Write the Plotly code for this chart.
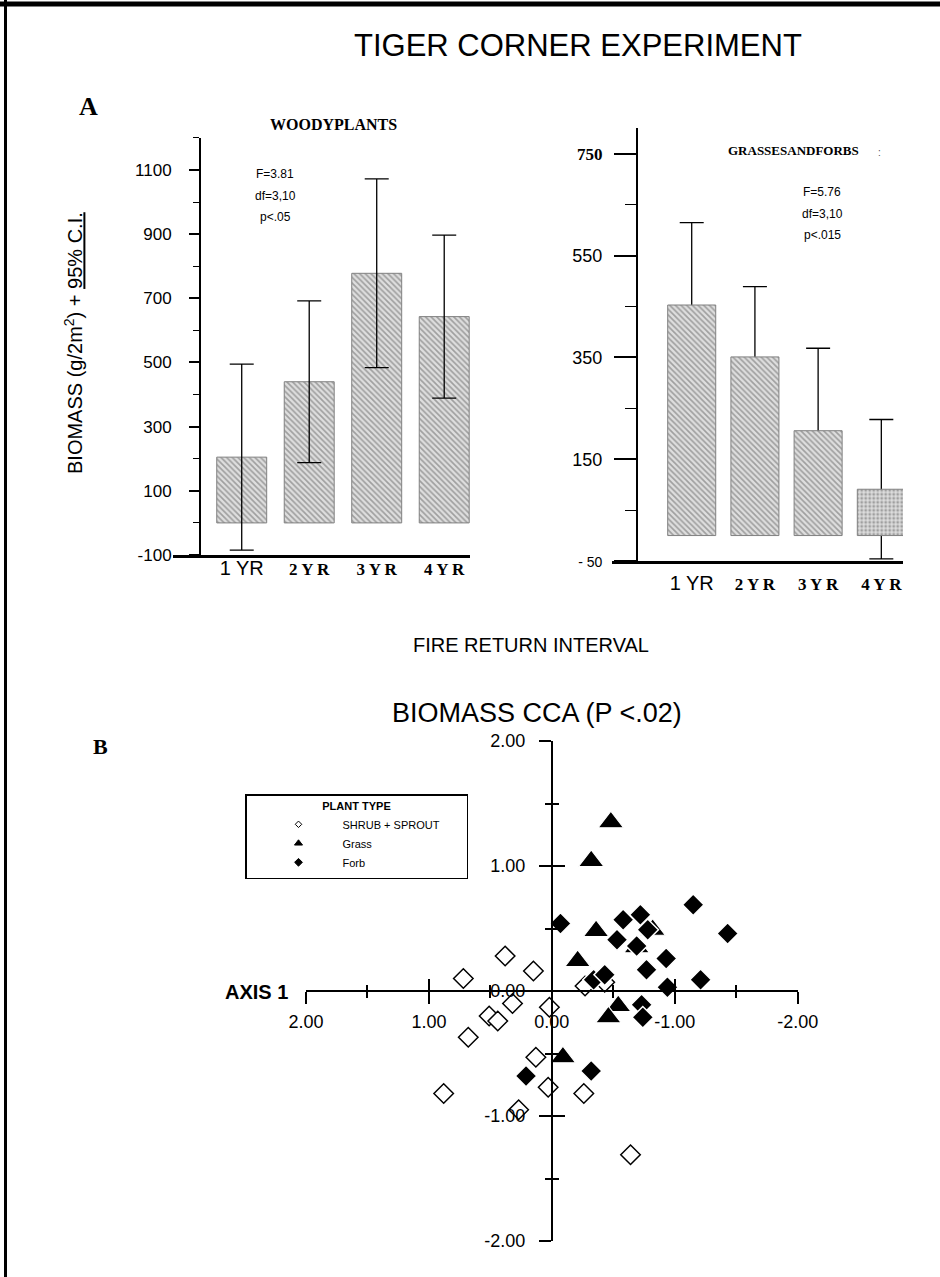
import plotly.graph_objects as go

# ---------------- data ----------------
intervals = ["1 YR", "2 YR", "3 YR", "4 YR"]

woody_mean = [205, 440, 778, 643]
woody_ci = [290, 252, 294, 254]
woody_stats = ["F=3.81", "df=3,10", "p<.05"]

grass_mean = [453, 351, 206, 91]
grass_ci = [162, 138, 162, 137]
grass_stats = ["F=5.76", "df=3,10", "p<.015"]

woody_major = [-100, 100, 300, 500, 700, 900, 1100]
woody_minor = [0, 200, 400, 600, 800, 1000, 1200]
grass_major = [-50, 150, 350, 550, 750]
grass_minor = [50, 250, 450, 650]

cca_major = [2, 1, 0, -1, -2]
cca_major_text = ["2.00", "1.00", "0.00", "-1.00", "-2.00"]
cca_minor = [1.5, 0.5, -0.5, -1.5]

shrub_x = [0.38, 0.15, 0.72, 0.32, 0.02, 0.51, 0.44, 0.68, 0.13, 0.03, 0.88, -0.26, 0.27, -0.64, -0.27, -0.43]
shrub_y = [0.28, 0.16, 0.10, -0.10, -0.13, -0.20, -0.24, -0.37, -0.53, -0.77, -0.82, -0.82, -0.95, -1.31, 0.04, 0.07]

grass_x = [-0.48, -0.32, -0.36, -0.21, -0.82, -0.69, -0.54, -0.46, -0.09]
grass_y = [1.35, 1.04, 0.48, 0.24, 0.49, 0.35, -0.12, -0.21, -0.53]

forb_x = [-0.07, -0.58, -0.72, -0.78, -0.53, -0.69, -0.93, -0.77, -1.15, -1.43,
          -1.21, -0.94, -0.34, -0.43, -0.32, 0.21, -0.73, -0.74]
forb_y = [0.54, 0.57, 0.61, 0.49, 0.41, 0.36, 0.26, 0.17, 0.69, 0.46,
          0.09, 0.03, 0.09, 0.13, -0.64, -0.68, -0.11, -0.21]

plant_types = ["SHRUB + SPROUT", "Grass", "Forb"]

# ---------------- page geometry helpers ----------------
W, H = 940, 1277
SANS = "Liberation Sans, Arial, sans-serif"
NARROW = "Liberation Sans Narrow, Arial Narrow, Liberation Sans, sans-serif"
SERIF = "Liberation Serif, Times New Roman, serif"


def px(x):
    return x / W


def py(y):
    return 1 - y / H


def year_label(label, first):
    if first:
        return f"<span style='font-family:{SANS};font-size:20px'>{label}</span>"
    spaced = " ".join(label.replace(" ", ""))
    return f"<span style='font-family:{SERIF};font-size:17px'><b>{spaced}</b></span>"


year_ticks = [year_label(t, i == 0) for i, t in enumerate(intervals)]
pos = list(range(len(intervals)))

bar_pattern = dict(shape="\\", fgcolor="#606060", bgcolor="#dedede", size=4, solidity=0.42)
bar_line = dict(color="#808080", width=1)

fig = go.Figure()

# woody plants: error bars drawn over the bars
fig.add_trace(go.Bar(
    x=pos, y=woody_mean, width=0.74, xaxis="x", yaxis="y",
    marker=dict(pattern=bar_pattern, line=bar_line),
    error_y=dict(type="data", array=woody_ci, visible=True, color="black", thickness=1.3, width=12),
    showlegend=False, hoverinfo="skip",
))

# grasses and forbs: error bars sit behind the bars
fig.add_trace(go.Bar(
    x=pos, y=grass_mean, width=0.76, xaxis="x2", yaxis="y2",
    marker=dict(color="rgba(0,0,0,0)", line=dict(width=0)),
    error_y=dict(type="data", array=grass_ci, visible=True, color="black", thickness=1.3, width=12),
    showlegend=False, hoverinfo="skip",
))
fig.add_trace(go.Bar(
    x=pos, y=grass_mean, width=0.76, xaxis="x2", yaxis="y2",
    marker=dict(pattern=dict(bar_pattern, shape=["\\", "\\", "\\", "."]), line=bar_line),
    showlegend=False, hoverinfo="skip",
))

# CCA ordination
fig.add_trace(go.Scatter(
    x=shrub_x, y=shrub_y, mode="markers", xaxis="x3", yaxis="y3",
    marker=dict(symbol="diamond", size=15, color="white", line=dict(color="black", width=1.5)),
    showlegend=False, hoverinfo="skip", cliponaxis=False,
))
fig.add_trace(go.Scatter(
    x=grass_x, y=grass_y, mode="markers", xaxis="x3", yaxis="y3",
    marker=dict(symbol="triangle-up", size=22, color="black", line=dict(color="white", width=1.2)),
    showlegend=False, hoverinfo="skip", cliponaxis=False,
))
fig.add_trace(go.Scatter(
    x=forb_x, y=forb_y, mode="markers", xaxis="x3", yaxis="y3",
    marker=dict(symbol="diamond", size=16.5, color="black", line=dict(color="white", width=1.5)),
    showlegend=False, hoverinfo="skip", cliponaxis=False,
))
# companion axes carrying the inward half of the crossing ticks
fig.add_trace(go.Scatter(x=[None], y=[None], xaxis="x4", yaxis="y4", mode="markers",
                         showlegend=False, hoverinfo="skip"))

# legend entries
legend_styles = [("diamond", 5, "white"), ("triangle-up", 7, "black"), ("diamond", 6, "black")]
for i, (name, (sym, size, fill)) in enumerate(zip(plant_types, legend_styles)):
    label = name + ("&nbsp;" * 7 if i == 0 else "")
    fig.add_trace(go.Scatter(
        x=[None], y=[None], mode="markers", name=label, xaxis="x3", yaxis="y3",
        marker=dict(symbol=sym, size=size, color=fill, line=dict(color="black", width=1)),
    ))

# ---------------- axes ----------------
common = dict(showgrid=False, zeroline=False, color="black")

x3_dom = [px(306), px(797.7)]
y3_dom = [py(1241), py(741)]
x3_rng = [2, -2]
y3_rng = [-2, 2]
# free-axis positions where the other variable is zero
x_axis_pos = y3_dom[0] + (0 - y3_rng[0]) / (y3_rng[1] - y3_rng[0]) * (y3_dom[1] - y3_dom[0])
y_axis_pos = x3_dom[0] + (0 - x3_rng[0]) / (x3_rng[1] - x3_rng[0]) * (x3_dom[1] - x3_dom[0])

cca_font = dict(family=SANS, size=18, color="black")

fig.update_layout(
    width=W, height=H,
    margin=dict(l=0, r=0, t=0, b=0, pad=0, autoexpand=False),
    paper_bgcolor="white", plot_bgcolor="rgba(0,0,0,0)",
    barmode="overlay",
    font=dict(family=SANS, color="black"),
    xaxis=dict(common, domain=[px(173), px(470)], range=[-1.018, 3.382], anchor="y",
               showline=True, linewidth=3, linecolor="black", ticks="",
               tickmode="array", tickvals=pos, ticktext=year_ticks, ticklabelstandoff=3),
    yaxis=dict(common, domain=[py(555), py(137.9)], range=[-100, 1200], anchor="free", position=px(200),
               showline=True, linewidth=2, linecolor="black",
               tickmode="array", tickvals=woody_major, ticktext=[str(v) for v in woody_major],
               ticks="outside", ticklen=10, tickwidth=1.5, tickcolor="black",
               minor=dict(tickmode="array", tickvals=woody_minor, ticks="outside", ticklen=6,
                          tickwidth=1.2, tickcolor="black"),
               tickfont=dict(family=SANS, size=17), ticklabelstandoff=14),
    xaxis2=dict(common, domain=[px(611.7), px(903)], range=[-1.266, 3.343], anchor="y2",
                showline=True, linewidth=3, linecolor="black", ticks="",
                tickmode="array", tickvals=pos, ticktext=year_ticks, ticklabelstandoff=12),
    yaxis2=dict(common, domain=[py(561), py(128.4)], range=[-50, 800], anchor="free", position=px(637),
                showline=True, linewidth=2, linecolor="black",
                tickmode="array", tickvals=grass_major,
                ticktext=["<span style='font-size:14px'>- 50</span>", "150", "350", "550",
                          f"<span style='font-family:{SERIF};font-size:17px'><b>750</b></span>"],
                ticks="outside", ticklen=22, tickwidth=1.8, tickcolor="black",
                minor=dict(tickmode="array", tickvals=grass_minor, ticks="outside", ticklen=11,
                           tickwidth=1.2, tickcolor="black"),
                tickfont=dict(family=SANS, size=18), ticklabelstandoff=8),
    xaxis3=dict(common, domain=x3_dom, range=x3_rng, anchor="free", position=x_axis_pos,
                showline=True, linewidth=2, linecolor="black",
                tickmode="array", tickvals=cca_major, ticktext=cca_major_text,
                ticks="outside", ticklen=12, tickwidth=2, tickcolor="black",
                minor=dict(tickmode="array", tickvals=cca_minor, ticks="outside", ticklen=6,
                           tickwidth=1.5, tickcolor="black"),
                tickfont=cca_font, ticklabelstandoff=2),
    xaxis4=dict(common, overlaying="x3", matches="x3", anchor="free", position=x_axis_pos,
                showline=False, showticklabels=False,
                tickmode="array", tickvals=cca_major,
                ticks="inside", ticklen=12, tickwidth=2, tickcolor="black",
                minor=dict(tickmode="array", tickvals=cca_minor, ticks="inside", ticklen=6,
                           tickwidth=1.5, tickcolor="black")),
    yaxis3=dict(common, domain=y3_dom, range=y3_rng, anchor="free", position=y_axis_pos,
                showline=True, linewidth=2, linecolor="black",
                tickmode="array", tickvals=cca_major, ticktext=cca_major_text,
                ticks="outside", ticklen=12, tickwidth=2, tickcolor="black",
                minor=dict(tickmode="array", tickvals=cca_minor, ticks="outside", ticklen=6,
                           tickwidth=1.5, tickcolor="black"),
                tickfont=cca_font, ticklabelstandoff=10),
    yaxis4=dict(common, overlaying="y3", matches="y3", anchor="free", position=y_axis_pos,
                showline=False, showticklabels=False,
                tickmode="array", tickvals=cca_major,
                ticks="inside", ticklen=12, tickwidth=2, tickcolor="black",
                minor=dict(tickmode="array", tickvals=cca_minor, ticks="inside", ticklen=6,
                           tickwidth=1.5, tickcolor="black")),
    legend=dict(x=px(245), y=py(794), xanchor="left", yanchor="top",
                bgcolor="white", bordercolor="black", borderwidth=1.5,
                font=dict(family=SANS, size=11, color="black"),
                title=dict(text="<b>PLANT TYPE</b>", side="top center",
                           font=dict(family=SANS, size=11, color="black")),
                indentation=8, itemwidth=78, itemsizing="trace", tracegroupgap=0),
)

# ---------------- text ----------------
annotations = []


def note(x, y, text, size, family=SANS, xanchor="center", angle=0, color="black"):
    annotations.append(dict(
        x=px(x), y=py(y), xref="paper", yref="paper", text=text, showarrow=False,
        xanchor=xanchor, yanchor="middle", textangle=angle,
        font=dict(family=family, size=size, color=color),
    ))


note(578, 46, "TIGER CORNER EXPERIMENT", 31)
note(88, 106, "<b>A</b>", 26, SERIF)
note(333, 124, "<b>WOODYPLANTS</b>", 16, SERIF)
note(793, 151, "<b>GRASSESANDFORBS</b>", 13, SERIF)
note(879, 152, ":", 10, SANS, color="#555555")
for i, line in enumerate(woody_stats):
    note(275, 174 + 21.5 * i, line, 12, NARROW)
for i, line in enumerate(grass_stats):
    note(822, 192 + 21.5 * i, line, 12, NARROW)
note(73, 343, "BIOMASS (g/2m<sup>2</sup>) + <u>95% C.I.</u>", 20, angle=-90)
note(531, 645, "FIRE RETURN INTERVAL", 20)
note(100, 746, "<b>B</b>", 22, SERIF)
note(537, 713, "BIOMASS CCA (P <.02)", 27)
note(290, 992, "<b>AXIS 1</b>", 20, NARROW, xanchor="right")

fig.update_layout(annotations=annotations)

# page frame (top and left rules)
fig.add_shape(type="line", xref="paper", yref="paper", x0=0, x1=1, y0=py(4), y1=py(4),
              line=dict(color="black", width=5))
fig.add_shape(type="line", xref="paper", yref="paper", x0=px(5.5), x1=px(5.5), y0=0, y1=1,
              line=dict(color="black", width=3))

fig.write_html("out.html")
